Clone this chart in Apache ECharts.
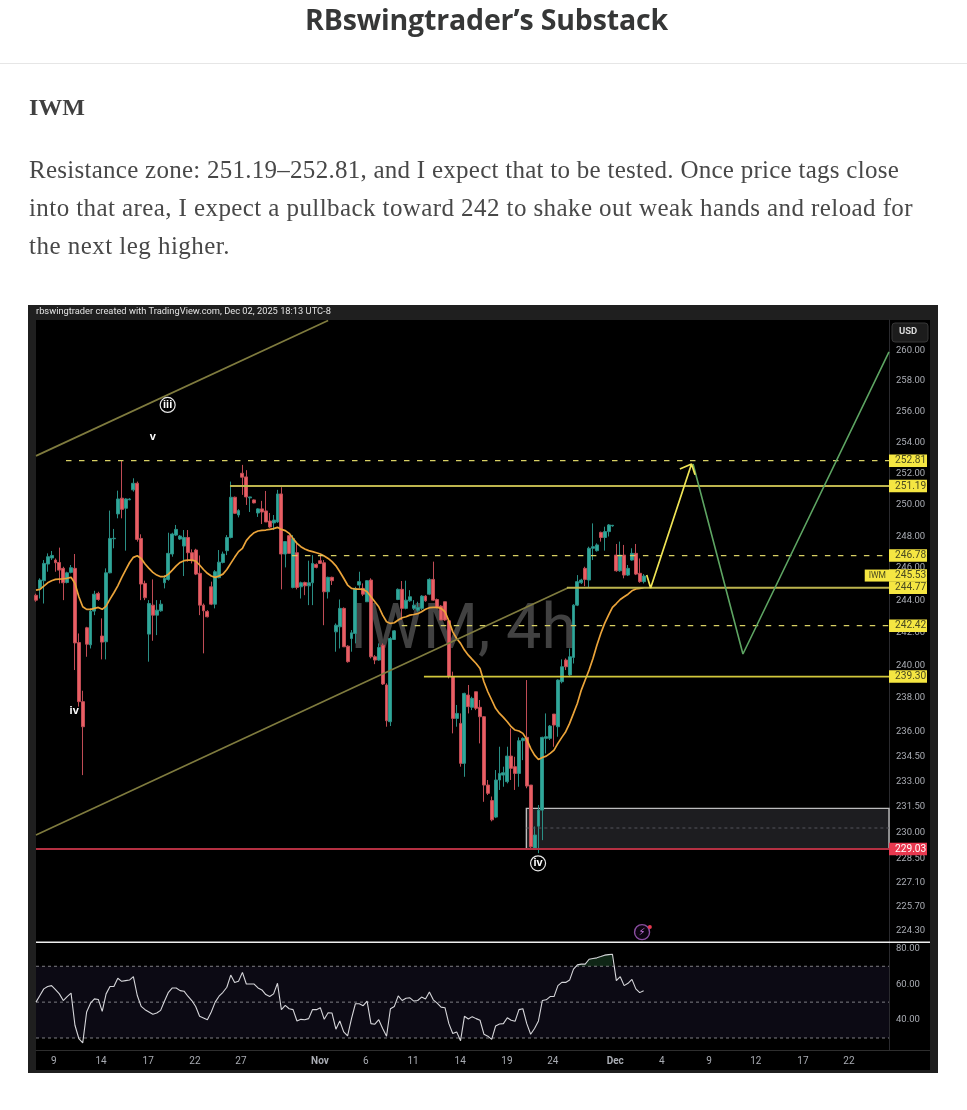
<!DOCTYPE html>
<html><head><meta charset="utf-8">
<title>IWM 4h</title>
<script src="https://cdn.jsdelivr.net/npm/echarts@6/dist/echarts.min.js"></script>
<style>
html,body{margin:0;padding:0;background:#fff;width:967px;height:1110px;overflow:hidden}
#chart{position:absolute;left:0;top:0;width:967px;height:1110px}
.t{position:absolute;white-space:nowrap;left:29px;font-family:"Liberation Serif",serif;color:#484848;font-size:25px;line-height:30px;z-index:2}
#rule{position:absolute;left:0;top:63px;width:967px;height:1px;background:#e6e6e6;z-index:2}
</style></head><body>
<div id="chart"></div>
<div class="t" id="title" style="left:305px;top:1px;font-family:'Open Sans',sans-serif;font-weight:700;font-size:28.5px;line-height:36px;color:#363737" data-w="363">RBswingtrader’s Substack</div>
<div id="rule"></div>
<div class="t" id="head" style="top:92px;font-weight:700;font-size:24px;color:#404040" data-w="56">IWM</div>
<div class="t" style="top:155px" data-w="870">Resistance zone: 251.19–252.81, and I expect that to be tested. Once price tags close</div>
<div class="t" style="top:193px" data-w="884">into that area, I expect a pullback toward 242 to shake out weak hands and reload for</div>
<div class="t" style="top:231px" data-w="201">the next leg higher.</div>
<script>
// ---- DATA ----
// candles: [open, close, low, high], one row per 4h bar
const candles = [
[244.3,244.0,243.9,244.4],[244.72,245.25,244.10,245.36],[245.21,246.29,243.79,246.50],[246.25,246.71,245.77,246.92],
[246.63,246.79,246.50,247.07],[246.50,246.33,245.77,246.60],[246.35,245.87,245.04,247.28],[245.98,245.08,244.00,246.08],
[245.10,245.70,245.04,245.77],[245.73,246.02,245.67,246.19],[245.98,241.36,239.70,246.88],[241.38,237.78,237.48,241.94],
[237.78,236.27,233.38,238.44],[242.29,241.28,240.51,242.35],[241.24,243.32,241.02,243.49],[243.32,244.37,243.07,244.58],
[244.42,244.04,243.96,244.52],[241.78,241.41,240.35,242.87],[241.43,245.70,240.35,245.98],[245.70,247.86,245.67,249.62],
[247.84,247.87,247.24,248.46],[249.41,250.36,249.13,250.89],[250.41,249.70,249.13,252.81],[249.77,250.36,247.09,250.41],
[250.31,250.36,250.28,250.41],[250.94,251.36,250.83,251.68],[251.36,247.80,247.66,251.47],[247.86,245.00,244.00,248.12],
[245.04,244.15,244.00,245.21],[241.90,243.79,240.21,244.00],[243.69,243.07,241.49,245.29],[243.07,243.38,241.84,244.00],
[243.34,243.75,243.28,244.00],[245.08,245.36,244.73,245.56],[245.29,246.92,245.21,248.22],[246.88,248.14,246.71,248.22],
[248.07,248.43,248.01,248.71],[247.82,248.01,247.76,248.07],[247.38,247.92,245.50,248.39],[247.92,246.96,246.40,248.39],
[246.96,246.46,246.29,247.17],[247.13,245.62,245.56,247.21],[245.67,243.69,243.07,246.79],[243.69,243.34,240.72,243.79],
[243.30,242.97,242.93,243.38],[244.83,243.75,243.69,245.15],[243.75,245.77,243.49,245.87],[245.40,246.37,245.36,247.13],
[246.35,246.88,246.29,247.03],[247.09,247.92,246.81,248.07],[247.92,250.47,247.86,251.47],[250.47,249.45,249.41,250.51],
[249.34,249.62,249.19,249.71],[252.00,251.75,250.62,252.54],[251.77,250.49,249.98,252.20],[250.43,250.49,249.53,250.49],
[250.30,250.11,250.08,250.33],[249.47,249.73,249.22,249.77],[249.73,249.53,248.77,250.24],[249.60,248.90,248.90,250.87],
[248.96,248.58,248.51,249.47],[248.84,249.02,248.39,249.34],[248.90,250.68,248.84,250.94],[250.68,246.88,244.67,251.11],
[246.88,247.66,246.04,247.66],[248.03,246.92,246.92,248.07],[244.79,247.86,244.73,248.07],[246.96,244.79,244.67,247.55],
[244.83,245.08,244.10,245.15],[245.10,244.89,244.31,245.15],[244.89,245.08,243.69,246.46],[245.08,246.29,243.69,246.81],
[246.23,246.04,245.98,246.29],[246.46,246.29,246.25,246.81],[246.33,244.52,242.45,246.50],[244.52,245.42,244.10,245.46],
[245.42,245.21,244.94,245.46],[242.04,242.45,240.82,242.56],[242.35,243.49,241.02,244.04],[243.49,241.12,241.12,243.55],
[241.16,240.21,240.15,241.22],[241.63,241.98,240.82,242.15],[241.94,244.73,241.33,244.83],[244.94,245.15,244.73,245.77],
[244.73,244.37,244.25,245.04],[243.90,245.21,243.90,245.25],[245.25,240.51,240.41,245.36],[240.51,240.31,240.06,240.61],
[240.31,241.08,240.27,241.33],[241.22,238.85,238.79,241.33],[238.79,236.63,236.27,238.89],[236.57,241.63,236.31,241.73],
[241.57,242.10,241.57,242.15],[244.04,244.67,244.00,244.73],[244.67,243.49,242.77,245.19],[243.49,244.00,243.43,245.21],
[243.96,244.21,243.90,244.62],[243.49,243.69,243.38,244.00],[243.38,243.55,243.28,243.90],[243.49,244.25,243.38,244.31],
[244.25,243.96,243.90,244.31],[244.37,245.29,244.31,245.36],[245.29,244.00,243.96,246.40],[244.04,243.55,243.49,244.10],
[243.63,242.77,242.77,243.69],[243.90,242.77,242.72,243.90],[242.72,239.30,239.19,242.77],[239.30,236.77,235.87,239.60],
[236.77,237.07,236.27,237.58],[236.47,234.08,233.88,237.07],[234.08,238.28,233.28,238.32],[238.18,237.48,237.07,238.79],
[237.44,237.98,237.27,238.08],[238.38,237.38,237.27,238.38],[237.44,236.87,235.27,237.88],[236.87,232.79,231.80,236.91],
[232.79,232.30,232.20,233.09],[231.87,230.74,230.65,232.11],[230.90,233.09,230.84,233.68],[233.09,233.48,232.50,235.07],
[233.38,233.52,232.69,233.88],[232.99,234.51,232.89,235.07],[234.51,233.78,233.09,236.17],[233.88,233.48,232.50,234.47],
[233.48,235.43,232.69,235.63],[235.43,235.57,234.27,235.63],[235.63,232.73,232.60,239.09],[232.79,229.17,229.08,232.79],
[229.08,229.85,228.98,230.35],[230.37,231.31,228.79,231.61],[231.31,235.63,229.55,235.67],[235.57,235.67,234.67,237.07],
[235.57,236.31,235.47,236.37],[237.03,236.37,235.07,237.03],[236.27,239.09,235.67,239.13],[238.99,239.90,238.89,240.35],
[240.31,239.90,239.70,240.41],[239.40,240.51,239.34,241.02],[240.47,243.69,240.10,243.75],[243.69,245.15,243.63,245.56],
[245.08,245.25,245.00,245.33],[245.98,245.29,244.87,246.08],[245.25,247.24,244.79,247.34],[247.24,247.34,246.50,248.81],
[247.09,247.45,247.03,247.55],[248.24,247.92,247.66,248.29],[247.92,248.29,247.09,248.60],[248.29,248.71,247.98,248.77],
[248.65,248.69,248.60,248.71],[246.81,245.83,245.77,247.51],[245.83,246.81,245.77,247.66],[246.81,245.56,245.36,247.45],
[245.56,245.98,245.50,246.19],[246.50,246.92,246.46,247.24],[246.92,245.62,245.56,247.51],[245.67,245.15,245.08,246.60],
[245.15,245.50,245.04,245.62]];

const emaLine = [244.62,244.67,244.87,245.08,245.21,245.29,245.31,245.33,245.36,245.42,245.04,244.21,243.59,243.43,243.43,243.49,243.55,243.43,243.63,
244.06,244.46,244.89,245.40,245.87,246.33,246.67,246.77,246.60,246.25,245.98,245.73,245.56,245.46,245.46,245.62,245.87,246.14,246.35,246.46,246.50,246.50,
246.44,246.19,245.91,245.67,245.50,245.42,245.50,245.62,245.91,246.29,246.67,247.03,247.24,247.72,248.01,248.22,248.33,248.37,248.39,248.43,248.48,248.56,
248.43,248.35,248.18,247.86,247.55,247.34,247.19,247.09,247.03,246.96,246.88,246.75,246.60,246.40,246.14,245.77,245.36,244.94,244.73,244.69,244.69,244.67,
244.52,244.21,243.90,243.59,243.07,242.66,242.56,242.60,242.77,242.91,242.97,243.07,243.11,243.16,243.28,243.43,243.53,243.55,243.55,243.49,243.28,242.72,
242.04,241.63,241.33,240.92,240.61,240.35,240.10,239.80,238.99,238.38,237.88,237.38,237.07,236.83,236.57,236.27,236.07,236.01,235.87,235.51,234.97,234.57,
234.31,234.43,234.51,234.67,234.87,235.27,235.63,235.97,236.47,237.07,237.68,238.48,239.09,239.70,240.41,241.22,241.94,242.56,243.07,243.55,243.79,244.04,
244.21,244.37,244.58,244.69,244.73,244.77];

const rsiLine = [50.0,53.7,57.4,58.7,59.2,57.0,54.6,50.9,53.1,55.0,37.1,29.7,27.3,44.5,49.4,51.8,51.5,44.8,54.6,58.7,58.7,63.3,61.6,62.0,62.3,64.2,53.7,47.6,45.8,44.5,43.2,43.9,45.4,50.6,55.5,57.9,57.9,56.4,56.1,53.3,50.9,47.6,42.1,41.2,40.2,44.5,50.0,53.3,55.5,58.3,65.1,61.0,61.6,66.6,60.1,60.1,60.1,57.9,56.8,54.2,53.1,54.6,60.5,45.8,48.2,46.3,45.8,39.5,40.4,40.2,40.8,45.9,45.8,46.9,40.4,44.1,43.9,34.9,39.5,33.4,31.2,40.8,49.1,49.1,48.0,50.6,38.0,37.7,40.2,35.3,31.0,46.3,47.6,53.5,50.9,52.2,52.4,50.6,50.9,52.8,51.8,55.7,51.3,49.4,47.2,46.9,38.0,32.5,33.4,28.5,42.1,40.6,41.9,40.8,39.9,32.1,31.0,29.2,36.7,37.8,38.0,41.3,39.9,39.3,45.8,46.3,38.0,32.1,35.3,39.5,50.9,51.3,53.1,53.1,59.2,61.0,61.0,62.3,68.4,70.8,71.2,71.2,73.9,74.3,74.7,75.4,76.2,76.5,76.7,62.0,64.2,59.2,60.5,62.7,57.4,55.3,56.4];

const priceTicks = [260,258,256,254,252,250,248,246,244,242,240,238,236,234.5,233,231.5,230,228.5,227.1,225.7,224.3];
const rsiTicks = [40,60,80];
const rsiGuides = [70,50,30];
const dateTickBars = [4.6,16.7,28.8,40.8,52.6,72.9,84.7,96.8,108.9,120.9,132.7,148.7,160.7,172.8,184.8,196.9,208.7];
const dateTickLabels = ['9','14','17','22','27','Nov','6','11','14','19','24','Dec','4','9','12','17','22'];

// level lines: first bar, price, dashed?
const levelBars = [7.7,49.8,65.7,136.3,93.9,99.6];
const levelPrices = [252.81,251.19,246.78,244.77,242.42,239.30];
const levelDashed = [true,false,true,false,true,false];
const supportPrice = 229.03;
const lastPrice = 245.53;
const boxBars = [125.9,219], boxPrices = [231.41,229.03], boxMid = 230.26;
const trendUpper = [[0,253.12],[75,261.99]];
const trendLower = [[0,229.85],[136.5,244.76]];
const projectionYellow = [[156.8,245.57],[157.8,244.76],[168.3,252.6],[165.3,252.28],[168.3,252.6],[169.2,251.9]];
const projectionGreen = [[168.7,252.6],[181.5,240.68],[219,259.9]];
const waveMarks = [{bar:33.8,price:256.42,t:'iii',ring:true},{bar:30,price:254.34,t:'v'},{bar:9.8,price:237.2,t:'iv'},{bar:128.9,price:228.2,t:'iv',ring:true}];
const alertMark = [155.6,224.24], alertDot = [157.6,224.54];
const lastBarAxis = 219;

// ---- CHART ----
const TICK = '#a9acb3', YEL = '#f5e642', FONT = 'Roboto, "Liberation Sans", sans-serif';
const chart = echarts.init(document.getElementById('chart'), null, {renderer:'canvas', width:967, height:1110});

const overlayLine = (pts, color, width, dash, z) => ({
  type:'line', xAxisIndex:0, yAxisIndex:0, data:pts, symbol:'none', silent:true, z:z||6, animation:false,
  lineStyle:{color, width, type: dash || 'solid'}
});
const tag = (price, text, fill, ink) => ({
  type:'scatter', xAxisIndex:0, yAxisIndex:0, data:[[lastBarAxis,price]], symbolSize:0, silent:true, z:12, animation:false, clip:false,
  itemStyle:{opacity:1},
  label:{show:true, opacity:1, position:'right', distance:0, formatter:text, backgroundColor:fill, color:ink, fontFamily:FONT, fontSize:10.2,
         padding:[1.5,2,1,6], width:30, height:10, lineHeight:10, align:'left', verticalAlign:'middle'}
});

const series = [];
// resistance/support box
series.push({type:'line', xAxisIndex:0, yAxisIndex:0, data:[], z:2, silent:true,
  markArea:{silent:true, animation:false, itemStyle:{color:'#1d1d20', borderColor:'#bdbdbd', borderWidth:1.4},
    data:[[{coord:[boxBars[0],boxPrices[0]]},{coord:[boxBars[1],boxPrices[1]]}]]}});
// candles
series.push({type:'candlestick', xAxisIndex:0, yAxisIndex:0, z:3, silent:true, animation:false, barWidth:3.4,
  encode:{x:0,y:[1,2,3,4]},
  itemStyle:{color:'#2fa89a',color0:'#ea5f63',borderColor:'#2a8f85',borderColor0:'#c04c55',borderWidth:1},
  data:candles.map((c,i)=>[i,c[0],c[1],c[2],c[3]])});
// EMA
series.push(overlayLine(emaLine.map((v,i)=>[i,v]),'#eba43a',1.7,null,5));
// trend lines
series.push(overlayLine(trendUpper,'#7f7b3e',1.7));
series.push(overlayLine(trendLower,'#7f7b3e',1.7));
// box midline
series.push(overlayLine([[boxBars[0],boxMid],[boxBars[1],boxMid]],'#55555a',1,[3,3]));
// levels
levelPrices.forEach((p,k)=>{
  const solidCol = p===239.30 ? '#d2c83c' : '#bdb44e';
  series.push(overlayLine([[levelBars[k],p],[lastBarAxis,p]], levelDashed[k] ? '#d8d064' : solidCol, levelDashed[k]?1.2:1.9, levelDashed[k]?[5.5,7.5]:null));
});
// support
series.push(overlayLine([[0,supportPrice],[lastBarAxis,supportPrice]],'#b43042',1.9));
// projections
series.push(overlayLine(projectionGreen,'#5da462',1.6,null,7));
series.push(overlayLine(projectionYellow,'#efe455',1.7,null,7));
// price axis labels, drawn through the axis scale
series.push({type:'scatter', xAxisIndex:0, yAxisIndex:0, z:4, silent:true, animation:false, symbolSize:0, clip:false, itemStyle:{opacity:1},
  data:priceTicks.map(p=>[lastBarAxis,p]),
  label:{show:true, opacity:1, position:'right', distance:7, color:TICK, fontFamily:FONT, fontSize:9.5, formatter:d=>d.value[1].toFixed(2)}});
// tags
levelPrices.forEach(p=>series.push(tag(p,p.toFixed(2),YEL,'#4a4a20')));
series.push(tag(lastPrice,lastPrice.toFixed(2),YEL,'#4a4a20'));
series.push(tag(supportPrice,supportPrice.toFixed(2),'#e8384f','#ffffff'));
series.push({type:'scatter', xAxisIndex:0, yAxisIndex:0, z:12, silent:true, animation:false, symbolSize:0, clip:false, itemStyle:{opacity:1},
  data:[[lastBarAxis,lastPrice]],
  label:{show:true, opacity:1, position:'left', distance:0, formatter:'IWM', backgroundColor:YEL, color:'#4a4a20', fontFamily:FONT, fontSize:8.5, padding:[2,3,1,4]}});
// wave labels
series.push({type:'scatter', xAxisIndex:0, yAxisIndex:0, z:8, silent:true, animation:false,
  data:waveMarks.map(m=>({value:[m.bar,m.price], symbol:'circle', symbolSize:m.ring?15:0,
    itemStyle:{color:'#000',borderColor:'#e8e8e8',borderWidth:1.2,opacity:1},
    label:{show:true, opacity:1, position:'inside', formatter:m.t, color:'#fff', fontFamily:'"Liberation Sans",sans-serif', fontSize:11, fontWeight:'bold'}}))});
// alert icon
series.push({type:'scatter', xAxisIndex:0, yAxisIndex:0, z:8, silent:true, animation:false, clip:false,
  data:[{value:alertMark, symbol:'circle', symbolSize:15, itemStyle:{color:'#0c0410',borderColor:'#8a4ea0',borderWidth:1.4,opacity:1},
    label:{show:true, opacity:1, position:'inside', formatter:'⚡', color:'#c070d8', fontSize:10, fontFamily:'"DejaVu Sans"'}},
    {value:alertDot, symbol:'circle', symbolSize:4, itemStyle:{color:'#e8384f',opacity:1}}]});
// RSI pane
series.push({type:'line', xAxisIndex:1, yAxisIndex:1, data:[], z:2, silent:true,
  markArea:{silent:true, animation:false, itemStyle:{color:'#0c0a14'}, data:[[{coord:[0,70]},{coord:[lastBarAxis,30]}]]}});
rsiGuides.forEach(g=>series.push({type:'line', xAxisIndex:1, yAxisIndex:1, symbol:'none', silent:true, z:3, animation:false,
  data:[[0,g],[lastBarAxis,g]], lineStyle:{color:'#7f7f84',width:1,type:[3,3]}}));
// overbought shading above the 70 guide
series.push({type:'line', xAxisIndex:1, yAxisIndex:1, symbol:'none', silent:true, z:3, animation:false,
  data:rsiLine.map((v,i)=>[i,v]).filter(p=>p[1]>=70), lineStyle:{width:0}, areaStyle:{origin:70,color:'#0f2616',opacity:1}});
series.push({type:'line', xAxisIndex:1, yAxisIndex:1, symbol:'none', silent:true, z:5, animation:false,
  data:rsiLine.map((v,i)=>[i,v]), lineStyle:{color:'#d6d6da',width:1.1}});

const option = {
  animation:false,
  backgroundColor:'#ffffff',
  grid:[
    {left:36,top:320,width:853,height:622,backgroundColor:'#000',show:true,borderWidth:0,containLabel:false},
    {left:36,top:943,width:853,height:107,backgroundColor:'#000',show:true,borderWidth:0,containLabel:false}
  ],
  xAxis:[
    {type:'value',gridIndex:0,min:0,max:lastBarAxis,show:false},
    {type:'value',gridIndex:1,min:0,max:lastBarAxis,
      axisLine:{show:true,lineStyle:{color:'#2e2e2e'}},axisTick:{show:false},splitLine:{show:false},
      axisLabel:{customValues:dateTickBars,margin:6,color:TICK,fontFamily:FONT,fontSize:10,hideOverlap:false,showMinLabel:true,showMaxLabel:true,
        formatter:v=>{const l=dateTickLabels[dateTickBars.indexOf(v)]; return (l==='Nov'||l==='Dec')?'{b|'+l+'}':l;},
        rich:{b:{fontWeight:'bold',color:TICK,fontFamily:FONT,fontSize:10}}}}
  ],
  yAxis:[
    {type:'log',gridIndex:0,position:'right',min:223.68,max:262.02,logBase:10,scale:true,
      axisLine:{show:true,onZero:false,lineStyle:{color:'#2a2a2e'}},axisTick:{show:false},axisLabel:{show:false},splitLine:{show:false},minorTick:{show:false},minorSplitLine:{show:false}},
    {type:'value',gridIndex:1,position:'right',min:23.3,max:82.98,
      axisLine:{show:true,onZero:false,lineStyle:{color:'#2a2a2e'}},axisTick:{show:false},splitLine:{show:false},
      axisLabel:{customValues:rsiTicks,margin:7,color:TICK,fontFamily:FONT,fontSize:9.5,formatter:v=>v.toFixed(2)}}
  ],
  graphic:[
    // frame
    {type:'rect',z:0,shape:{x:28,y:305,width:910,height:768},style:{fill:'#1f1f1f'}},
    {type:'rect',z:0,shape:{x:36,y:320,width:894,height:750},style:{fill:'#000'}},
    // watermark
    {type:'text',z:1,x:350,y:601,style:{text:'IWM, 4h',fill:'#414141',font:'normal 63px Roboto, "Liberation Sans", sans-serif'}},
    // attribution
    {type:'text',z:20,x:36,y:307,style:{text:'rbswingtrader created with TradingView.com, Dec 02, 2025 18:13 UTC-8',fill:'#e2e2e2',font:'9.3px Roboto, "Liberation Sans", sans-serif'}},
    // currency button
    {type:'rect',z:20,shape:{x:892,y:323,width:36,height:19,r:3},style:{fill:'#1c1c1c',stroke:'#363636',lineWidth:1}},
    {type:'text',z:21,x:899,y:327,style:{text:'USD',fill:'#d8d8d8',font:'bold 9.5px Roboto, "Liberation Sans", sans-serif'}},
    // pane divider and time-axis rule
    {type:'rect',z:20,shape:{x:36,y:941.6,width:894,height:1.3},style:{fill:'#efefef'}},
    {type:'rect',z:20,shape:{x:889,y:1050,width:41,height:1},style:{fill:'#2e2e2e'}}
  ],
  series
};
chart.setOption(option);

// fit the page text lines to their measured widths
document.querySelectorAll('.t').forEach(el=>{
  const target = +el.dataset.w, n = el.textContent.length;
  const natural = el.getBoundingClientRect().width;
  el.style.letterSpacing = ((target-natural)/n).toFixed(3)+'px';
});
</script>
</body></html>
